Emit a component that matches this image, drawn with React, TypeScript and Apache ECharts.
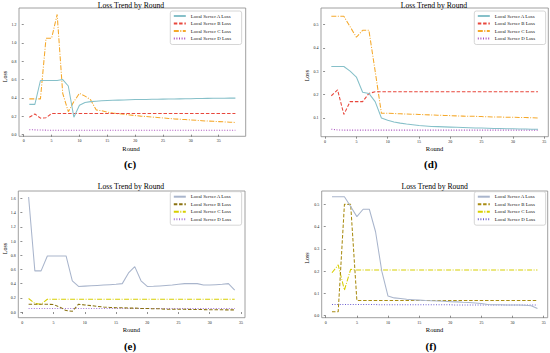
import React, { useEffect, useRef } from "react";
import * as echarts from "echarts";

const FONT = '"Liberation Serif", "Times New Roman", Times, serif';

const seriesNames = ["Local Server A Loss", "Local Server B Loss", "Local Server C Loss", "Local Server D Loss"];
const titleText = "Loss Trend by Round";
const xName = "Round";
const yName = "Loss";

const xTicks = [0, 5, 10, 15, 20, 25, 30, 35];
const yTicksC = [0, 0.2, 0.4, 0.6, 0.8, 1.0, 1.2];
const yTicksD = [0.1, 0.2, 0.3, 0.4, 0.5];
const yTicksE = [0, 0.2, 0.4, 0.6, 0.8, 1.0, 1.2, 1.4, 1.6];
const yTicksF = [0, 0.1, 0.2, 0.3, 0.4, 0.5];

// Panel (c): 38 rounds
const cA = [0.33, 0.33, 0.59, 0.59, 0.59, 0.59, 0.60, 0.53, 0.19, 0.32, 0.35, 0.36, 0.365, 0.37, 0.372, 0.374, 0.376, 0.378, 0.38, 0.382, 0.383, 0.384, 0.385, 0.386, 0.387, 0.388, 0.389, 0.39, 0.391, 0.392, 0.393, 0.394, 0.395, 0.396, 0.397, 0.397, 0.398, 0.398];
const cB = [0.19, 0.225, 0.18, 0.185, 0.23, 0.23, 0.23, 0.23, 0.23, 0.23, 0.23, 0.23, 0.23, 0.23, 0.23, 0.23, 0.23, 0.23, 0.23, 0.23, 0.23, 0.23, 0.23, 0.23, 0.23, 0.23, 0.23, 0.23, 0.23, 0.23, 0.23, 0.23, 0.23, 0.23, 0.23, 0.23, 0.23, 0.23];
const cC = [0.39, 0.39, 0.39, 1.05, 1.05, 1.31, 0.45, 0.25, 0.36, 0.45, 0.42, 0.38, 0.27, 0.26, 0.245, 0.235, 0.228, 0.222, 0.215, 0.208, 0.202, 0.197, 0.192, 0.187, 0.182, 0.177, 0.172, 0.168, 0.164, 0.16, 0.156, 0.152, 0.148, 0.145, 0.142, 0.139, 0.136, 0.133];
const cD = [0.053, 0.052, 0.05, 0.049, 0.049, 0.048, 0.048, 0.048, 0.048, 0.048, 0.048, 0.048, 0.048, 0.048, 0.048, 0.048, 0.048, 0.048, 0.048, 0.047, 0.047, 0.047, 0.047, 0.047, 0.047, 0.047, 0.047, 0.047, 0.047, 0.047, 0.047, 0.047, 0.047, 0.047, 0.047, 0.047, 0.047, 0.047];

// Panel (d): 34 rounds
const dA = [0.32, 0.32, 0.32, 0.30, 0.275, 0.21, 0.205, 0.17, 0.10, 0.09, 0.083, 0.078, 0.074, 0.071, 0.068, 0.066, 0.064, 0.063, 0.062, 0.061, 0.06, 0.059, 0.058, 0.057, 0.057, 0.056, 0.055, 0.055, 0.054, 0.054, 0.053, 0.053, 0.052, 0.052];
const dB = [0.195, 0.22, 0.115, 0.17, 0.17, 0.17, 0.205, 0.212, 0.212, 0.212, 0.212, 0.212, 0.212, 0.212, 0.212, 0.212, 0.212, 0.212, 0.212, 0.212, 0.212, 0.212, 0.212, 0.212, 0.212, 0.212, 0.212, 0.212, 0.212, 0.212, 0.212, 0.212, 0.212, 0.212];
const dC = [0.535, 0.535, 0.535, 0.49, 0.445, 0.475, 0.475, 0.30, 0.12, 0.12, 0.119, 0.118, 0.117, 0.116, 0.115, 0.114, 0.113, 0.112, 0.111, 0.11, 0.109, 0.108, 0.107, 0.107, 0.106, 0.105, 0.104, 0.104, 0.103, 0.103, 0.102, 0.102, 0.101, 0.10];
const dD = [0.052, 0.049, 0.048, 0.048, 0.048, 0.048, 0.048, 0.048, 0.048, 0.048, 0.048, 0.048, 0.048, 0.048, 0.048, 0.048, 0.048, 0.048, 0.048, 0.048, 0.048, 0.048, 0.048, 0.048, 0.048, 0.048, 0.048, 0.048, 0.048, 0.048, 0.048, 0.048, 0.048, 0.048];

// Panel (e): 34 rounds
const eA = [1.62, 0.58, 0.58, 0.79, 0.79, 0.79, 0.79, 0.44, 0.36, 0.365, 0.37, 0.375, 0.38, 0.385, 0.39, 0.40, 0.55, 0.64, 0.44, 0.36, 0.362, 0.368, 0.374, 0.38, 0.39, 0.40, 0.40, 0.40, 0.38, 0.38, 0.385, 0.39, 0.40, 0.31];
const eB = [0.11, 0.11, 0.11, 0.11, 0.105, 0.07, 0.02, 0.01, 0.11, 0.10, 0.09, 0.08, 0.07, 0.065, 0.06, 0.06, 0.055, 0.055, 0.05, 0.05, 0.045, 0.045, 0.04, 0.04, 0.04, 0.038, 0.036, 0.035, 0.034, 0.033, 0.032, 0.031, 0.03, 0.03];
const eC = [0.19, 0.12, 0.11, 0.18, 0.18, 0.18, 0.18, 0.18, 0.18, 0.18, 0.18, 0.18, 0.18, 0.18, 0.18, 0.18, 0.18, 0.18, 0.18, 0.18, 0.18, 0.18, 0.18, 0.18, 0.18, 0.18, 0.18, 0.18, 0.18, 0.18, 0.18, 0.18, 0.18, 0.18];
const eD = [0.05, 0.05, 0.05, 0.05, 0.05, 0.05, 0.05, 0.05, 0.05, 0.05, 0.05, 0.05, 0.05, 0.05, 0.05, 0.05, 0.05, 0.05, 0.05, 0.05, 0.05, 0.05, 0.05, 0.05, 0.05, 0.05, 0.05, 0.05, 0.05, 0.05, 0.05, 0.05, 0.05, 0.05];

// Panel (f): 34 rounds
const fA = [0.534, 0.534, 0.534, 0.49, 0.445, 0.478, 0.478, 0.377, 0.20, 0.088, 0.08, 0.077, 0.074, 0.072, 0.07, 0.068, 0.067, 0.066, 0.065, 0.063, 0.062, 0.06, 0.059, 0.057, 0.055, 0.05, 0.049, 0.049, 0.048, 0.048, 0.048, 0.047, 0.045, 0.032];
const fB = [0.018, 0.018, 0.50, 0.50, 0.068, 0.068, 0.068, 0.068, 0.068, 0.068, 0.068, 0.068, 0.068, 0.068, 0.068, 0.068, 0.068, 0.068, 0.068, 0.068, 0.068, 0.068, 0.068, 0.068, 0.068, 0.068, 0.068, 0.068, 0.068, 0.068, 0.068, 0.068, 0.068, 0.068];
const fC = [0.193, 0.228, 0.115, 0.208, 0.205, 0.205, 0.205, 0.205, 0.205, 0.205, 0.205, 0.205, 0.205, 0.205, 0.205, 0.205, 0.205, 0.205, 0.205, 0.205, 0.205, 0.205, 0.205, 0.205, 0.205, 0.205, 0.205, 0.205, 0.205, 0.205, 0.205, 0.205, 0.205, 0.205];
const fD = [0.05, 0.05, 0.05, 0.05, 0.05, 0.05, 0.05, 0.05, 0.049, 0.049, 0.049, 0.049, 0.049, 0.049, 0.049, 0.049, 0.049, 0.049, 0.049, 0.049, 0.048, 0.048, 0.048, 0.048, 0.048, 0.048, 0.048, 0.048, 0.048, 0.048, 0.048, 0.048, 0.048, 0.048];

const colorsCD = ["#86c0c9", "#e8473c", "#f5a82a", "#a84dbd"];
const colorsE = ["#a9b5cc", "#8a7210", "#d8cf00", "#a474d6"];
const colorsF = ["#a9b5cc", "#a98c12", "#d8cf00", "#6c5fd0"];

const dashTypes: any[] = ["solid", [3.5, 1.8], [5, 1.5, 1, 1.5], [1, 1.6]];

type Panel = {
  left: number; top: number; w: number; h: number;
  grid: { left: number; top: number; width: number; height: number };
  xMin: number; xMax: number; yMin: number; yMax: number; yTicks: number[];
  data: number[][]; colors: string[];
  title: [number, number]; xl: [number, number]; yl: [number, number]; sub: [number, number]; subText: string;
  legend: [number, number];
};

const panels: Panel[] = [
  {
    left: 0, top: 0, w: 275, h: 175,
    grid: { left: 19, top: 8, width: 226.7, height: 128.3 },
    xMin: -0.85, xMax: 39.85, yMin: -0.018, yMax: 1.38, yTicks: yTicksC,
    data: [cA, cB, cC, cD], colors: colorsCD,
    title: [131, 5.3], xl: [131, 148], yl: [5, 76.5], sub: [130, 164], subText: "(c)", legend: [170.3, 11],
  },
  {
    left: 275, top: 0, w: 275, h: 175,
    grid: { left: 46, top: 8, width: 227.3, height: 128.7 },
    xMin: -0.65, xMax: 35.65, yMin: 0.02, yMax: 0.57, yTicks: yTicksD,
    data: [dA, dB, dC, dD], colors: colorsCD,
    title: [159, 5.3], xl: [159.5, 148.3], yl: [32.3, 75.7], sub: [155.7, 164], subText: "(d)", legend: [199.3, 11],
  },
  {
    left: 0, top: 175, w: 275, h: 178,
    grid: { left: 18.3, top: 16, width: 226.7, height: 126.7 },
    xMin: -0.65, xMax: 35.65, yMin: -0.08, yMax: 1.705, yTicks: yTicksE,
    data: [eA, eB, eC, eD], colors: colorsE,
    title: [131, 11], xl: [131.3, 154], yl: [4.7, 73.5], sub: [130, 170.7], subText: "(e)", legend: [170.3, 16.7],
  },
  {
    left: 275, top: 175, w: 275, h: 178,
    grid: { left: 46.7, top: 16, width: 226, height: 126.7 },
    xMin: -0.65, xMax: 35.65, yMin: -0.009, yMax: 0.56, yTicks: yTicksF,
    data: [fA, fB, fC, fD], colors: colorsF,
    title: [159.7, 11], xl: [159.5, 154], yl: [32.3, 83], sub: [156, 170.7], subText: "(f)", legend: [199.3, 16.7],
  },
];

function buildOption(p: Panel): any {
  const tickStyle = { color: "#444", width: 0.6 };
  return {
    animation: false,
    grid: { ...p.grid, show: true, borderColor: "#888", borderWidth: 0.8, backgroundColor: "transparent", containLabel: false },
    xAxis: {
      type: "value", min: p.xMin, max: p.xMax,
      axisLine: { show: false }, splitLine: { show: false },
      axisTick: { show: true, customValues: xTicks, length: 2, lineStyle: tickStyle },
      axisLabel: { customValues: xTicks, fontSize: 4, color: "#222", margin: 2.5, fontFamily: FONT, formatter: (v: number) => String(v) },
    },
    yAxis: {
      type: "value", min: p.yMin, max: p.yMax,
      axisLine: { show: false }, splitLine: { show: false },
      axisTick: { show: true, customValues: p.yTicks, length: 2, lineStyle: tickStyle },
      axisLabel: { customValues: p.yTicks, fontSize: 4, color: "#222", margin: 2.5, fontFamily: FONT, formatter: (v: number) => v.toFixed(1) },
    },
    legend: {
      orient: "vertical", left: p.legend[0], top: p.legend[1],
      itemWidth: 12, itemHeight: 6, itemGap: 2.5,
      padding: [2.5, 10.5, 3.5, 2.5],
      borderColor: "#cccccc", borderWidth: 0.8, borderRadius: 2, backgroundColor: "#ffffff",
      selectedMode: false,
      itemStyle: { opacity: 0 },
      textStyle: { fontSize: 4.9, fontFamily: FONT, color: "#111" },
      data: seriesNames,
    },
    graphic: [
      { type: "text", x: p.title[0], y: p.title[1], style: { text: titleText, font: `7.7px ${FONT}`, fill: "#000", align: "center", verticalAlign: "middle" } },
      { type: "text", x: p.xl[0], y: p.xl[1], style: { text: xName, font: `6.5px ${FONT}`, fill: "#000", align: "center", verticalAlign: "middle" } },
      { type: "text", x: p.yl[0], y: p.yl[1], rotation: Math.PI / 2, style: { text: yName, font: `6px ${FONT}`, fill: "#000", align: "center", verticalAlign: "middle" } },
      { type: "text", x: p.sub[0], y: p.sub[1], style: { text: p.subText, font: `bold 11px ${FONT}`, fill: "#000", align: "center", verticalAlign: "middle" } },
    ],
    series: p.data.map((vals, i) => ({
      name: seriesNames[i],
      type: "line",
      symbol: "circle",
      showSymbol: false,
      symbolSize: 0,
      data: vals.map((v, j) => [j + 1, v]),
      lineStyle: { color: p.colors[i], width: 1.05, type: dashTypes[i] },
      itemStyle: { color: p.colors[i] },
      emphasis: { disabled: true },
      z: 10 - i,
    })),
  };
}

function PanelChart({ p }: { p: Panel }) {
  const ref = useRef<HTMLDivElement>(null);
  useEffect(() => {
    if (!ref.current) return;
    const chart = echarts.init(ref.current, undefined, { renderer: "svg" });
    chart.setOption(buildOption(p));
    return () => chart.dispose();
  }, [p]);
  return <div ref={ref} style={{ position: "absolute", left: p.left, top: p.top, width: p.w, height: p.h }} />;
}

export default function App() {
  return (
    <div style={{ position: "fixed", left: 0, top: 0, width: 550, height: 353, background: "#fff", overflow: "hidden" }}>
      {panels.map((p, i) => (
        <PanelChart key={i} p={p} />
      ))}
    </div>
  );
}
